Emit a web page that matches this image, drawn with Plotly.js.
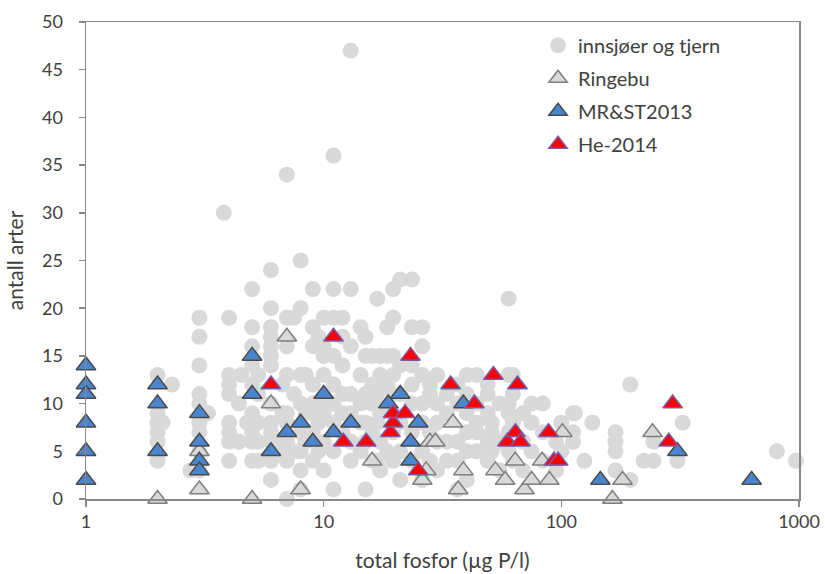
<!DOCTYPE html>
<html>
<head>
<meta charset="utf-8">
<script src="https://cdn.plot.ly/plotly-3.0.1.min.js"></script>
<style>html,body{margin:0;padding:0;background:#fff;}#chart{width:825px;height:574px;}</style>
</head>
<body>
<div id="chart"></div>
<script>
// innsjøer og tjern (gray circles)
const lakeP = [
 2,2,2,2,2,2,2.3,2.1,
 2.75,3,3,3,3,3,3,3,3,3,3.26,3.8,
 4,4,4,4,4,4,4,4,4.4,4.4,4.5,4.76,
 5,5,5,5,5,5,5,5,5,5.3,5.3,5.3,5.3,5.3,
 6,6,6,6,6,6,6,6,6,6,6,6,6,6.7,6.7,6.7,6.7,
 7,7,7,7,7,7,7,7,7,7.5,7.5,7.5,
 8,8,8,8,8,8,8,8,8.4,8.4,8.4,
 9,9,9,9,9,9,9,9,9.5,9.5,9.5,
 10,10,10,10,10,10,10,10,
 11,11,11,11,11,11,11,11,11,
 12,12,12,12,12,12,
 13,13,13,13,13,13,13,
 14.3,14.3,14.3,14.3,14.3,
 15,15,15,15,15,15,
 16,16,16,16,16,
 16.8,16.8,16.8,16.8,
 17.3,17.3,17.3,17.3,17.3,
 18.5,18.5,18.5,18.5,18.5,
 19.6,19.6,19.6,19.6,19.6,19.6,19.6,19.6,
 21,21,21,21,21,21,
 23.5,23.5,23.5,23.5,23.5,23.5,23.5,
 26,26,26,26,26,26,26,
 28,28,28,28,
 30,30,30,30,30,
 33,33,33,33,
 36.6,36.6,36.6,36.6,36.6,
 40,40,40,40,40,40,
 44,44,44,44,44,
 49,49,49,49,49,
 51,51,51,
 55,55,55,
 60,60,60,60,60,60,
 62.5,62.5,62.5,62.5,
 69,69,69,
 75,75,75,
 83.5,83.5,83.5,
 95,95,
 100,100,
 112,112,112,114,125,135,
 169,169,169,169,
 195,195,222,244,244,308,324,807,970
];
const lakeN = [
 13,9,8,7,6,4,12,8,
 3,19,17,14,11,10,8,7,5,3,9,30,
 19,13,11,8,6,4,7,12,6,10,13,8,
 22,18,16,14,12,9,7,6,4,8,6,4,11,13,
 24,20,18,17,16,15,14,10,8,7,6,4,2,12,9,5,6,
 34,19,16,13,9,8,6,4,0,19,11,5,
 25,20,13,10,7,5,3,1,13,9,6,
 22,18,16,12,10,9,4,7,17,8,5,
 19,15,16,10,13,9,6,3,
 36,22,19,15,12,10,8,5,1,
 19,17,14,11,9,7,
 47,22,16,11,9,6,4,
 18,13,10,8,5,
 17,15,11,8,6,1,
 15,12,10,7,4,
 21,11,8,4,
 15,13,9,6,3,
 18,15,12,10,5,
 22,19,15,13,11,9,7,4,
 23,14,11,8,5,2,
 23,18,14,12,10,7,4,
 18,16,13,10,8,5,2,
 12,11,7,4,
 13,10,8,6,3,
 11,9,6,4,
 12,10,6,4,1,
 13,11,9,7,5,2,
 13,10,8,7,5,
 11,9,6,4,12,
 5,8,7,
 10,6,3,
 21,13,10,9,7,5,
 13,11,8,4,
 9,6,3,
 8,5,10,
 10,7,4,
 6,3,
 5,8,
 9,7,6,9,4,8,
 7,6,5,3,
 12,2,4,4,6,4,8,5,4
];
// Ringebu (gray triangles)
const ringP = [2,3,3,5,6,7,8,16,26,27,28,29.5,35,36.8,38.7,52.8,58,64,70,75,83,89,101,164,181,242];
const ringN = [0,1,5,0,10,17,1,4,2,3,6,6,8,1,3,3,2,4,1,2,4,2,7,0,2,7];
// MR&ST2013 (blue triangles)
const mrP = [1,1,1,1,1,1,2,2,2,3,3,3,3,5,5,6,7,8,9,10,11,13,18.7,21,25,23.2,23.2,38.7,146,308,632];
const mrN = [14,12,11,8,5,2,12,10,5,9,6,4,3,15,11,5,7,8,6,11,7,8,10,11,8,6,4,10,2,5,2];
// He-2014 (red triangles)
const heP = [6,11,12.1,15.1,19.1,19.6,19.6,22,23.2,25,34.2,43.1,51.8,65.4,59.3,64.1,67.3,88.3,93,97,283,294];
const heN = [12,17,6,6,7,8,9,9,15,3,12,10,13,12,6,7,6,7,4,4,6,10];

const xTicks = [1,10,100,1000];
const xTickText = ['1','10','100','1000'];

const FONT = 'Lato, "Open Sans", sans-serif';
const TXT = '#404040';

const traces = [
 {x: lakeP, y: lakeN, type:'scatter', mode:'markers', name:'innsjøer og tjern', legendgroup:'a',
  cliponaxis:false, marker:{symbol:'circle', size:16, color:'#d9d9d9', line:{width:0}}},
 {x: ringP, y: ringN, type:'scatter', mode:'markers', name:'Ringebu', legendgroup:'b',
  cliponaxis:false, marker:{symbol:'triangle-up', size:17, color:'#d9d9d9', line:{width:1.5, color:'#7f7f7f'}}},
 {x: mrP, y: mrN, type:'scatter', mode:'markers', name:'MR&ST2013', legendgroup:'c',
  cliponaxis:false, marker:{symbol:'triangle-up', size:17, color:'#4a86d0', line:{width:1.5, color:'#4a4a4a'}}},
 {x: heP, y: heN, type:'scatter', mode:'markers', name:'He-2014', legendgroup:'d',
  cliponaxis:false, marker:{symbol:'triangle-up', size:17, color:'#ff0000', line:{width:1.5, color:'#7a5aa8'}}}
];

const layout = {
 width:825, height:574,
 margin:{l:86, r:26, t:22, b:75},
 paper_bgcolor:'#ffffff', plot_bgcolor:'#ffffff',
 font:{family:FONT, size:18, color:TXT},
 showlegend:true,
 legend:{x:0.634, y:0.992, xanchor:'left', yanchor:'top', bgcolor:'rgba(0,0,0,0)',
   font:{family:FONT, size:20, color:TXT}, tracegroupgap:4, traceorder:'grouped'},
 xaxis:{type:'log', range:[0,3], tickmode:'array', tickvals:xTicks, ticktext:xTickText,
   showgrid:false, zeroline:false, showline:true, linecolor:'#888888', linewidth:1.5, mirror:true,
   ticks:'outside', ticklen:6, tickcolor:'#888888', tickwidth:1.5,
   tickfont:{family:FONT, size:18, color:TXT},
   title:{text:'total fosfor (µg P/l)', font:{family:FONT, size:21, color:TXT}, standoff:22}},
 yaxis:{range:[0,50], dtick:5, tick0:0,
   showgrid:false, zeroline:false, showline:true, linecolor:'#888888', linewidth:1.5, mirror:true,
   ticks:'outside', ticklen:6, tickcolor:'#888888', tickwidth:1.5, ticklabelstandoff:12,
   tickfont:{family:FONT, size:18, color:TXT},
   title:{text:'antall arter', font:{family:FONT, size:21, color:TXT}, standoff:12}}
};

Plotly.newPlot('chart', traces, layout, {displayModeBar:false, staticPlot:true});
</script>
</body>
</html>
